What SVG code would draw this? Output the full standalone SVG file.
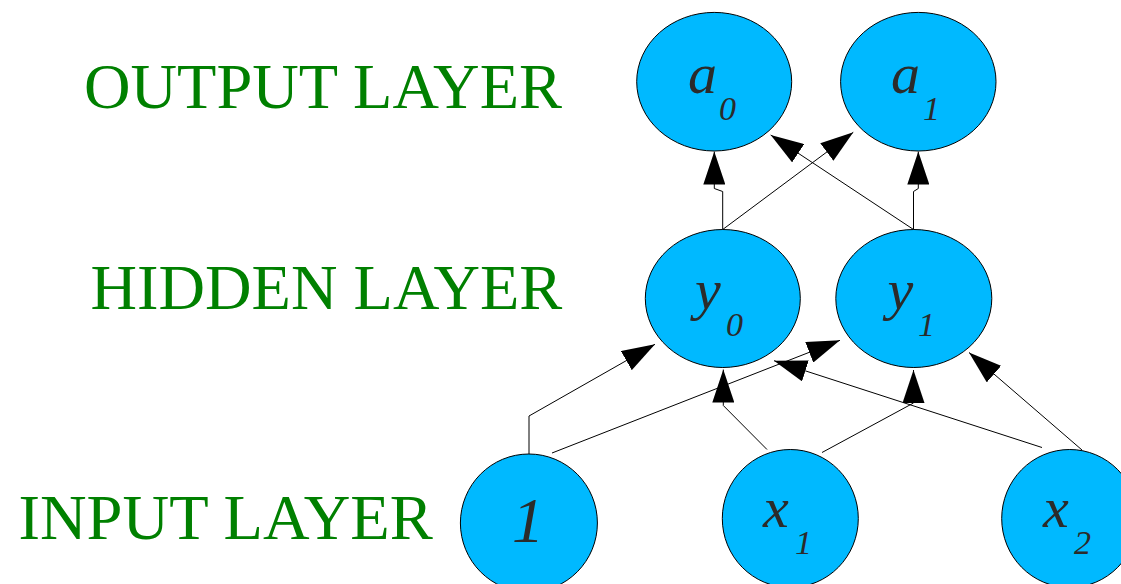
<svg xmlns="http://www.w3.org/2000/svg" width="1121" height="584" viewBox="0 0 1121 584">
<defs>
<marker id="ah" markerWidth="33" markerHeight="22" refX="33" refY="11" orient="auto" markerUnits="userSpaceOnUse" viewBox="0 0 33 22"><path d="M0,0 L33,11 L0,22 z" fill="#000"/></marker>
</defs>
<rect width="1121" height="584" fill="#fff"/>
<g id="layer-labels" font-family="Liberation Serif, serif" font-size="48" fill="#008000">
<text transform="translate(84,107.7) scale(1.3333)" x="0" y="0" textLength="358.5" lengthAdjust="spacingAndGlyphs">OUTPUT LAYER</text>
<text transform="translate(90.6,309.3) scale(1.3333)" x="0" y="0" textLength="353.8" lengthAdjust="spacingAndGlyphs">HIDDEN LAYER</text>
<text transform="translate(18.5,539) scale(1.3333)" x="0" y="0" textLength="310.7" lengthAdjust="spacingAndGlyphs">INPUT LAYER</text>
</g>
<g id="connectors" fill="none" stroke="#000" stroke-width="1" marker-end="url(#ah)">
<path d="M529,454 L529,416 L655,344.3"/>
<path d="M552,453 L840,340.3"/>
<path d="M767,449.5 L723.3,405.5 L723.3,369.5"/>
<path d="M822,452.5 L913.5,403 L913.5,370"/>
<path d="M1042,447.5 L774,360.7"/>
<path d="M1082,450 L969,352.5"/>
<path d="M722.7,229.5 L722.7,191.5 L714.3,188.5 L714.3,151.5"/>
<path d="M722.7,229.5 L853.3,132.3"/>
<path d="M913.5,229.5 L913.5,191.5 L918.3,188.5 L918.3,151.5"/>
<path d="M913.5,229.5 L770.7,135"/>
</g>
<g id="nodes" fill="#00b9ff" stroke="#000" stroke-width="1">
<g id="node-a0"><ellipse cx="714.2" cy="81.7" rx="77.5" ry="69.3"/></g>
<g id="node-a1"><ellipse cx="918.3" cy="81.7" rx="77.7" ry="69.3"/></g>
<g id="node-y0"><ellipse cx="722.8" cy="298.5" rx="77.5" ry="69"/></g>
<g id="node-y1"><ellipse cx="913.8" cy="298.5" rx="78" ry="69"/></g>
<g id="node-1"><ellipse cx="528.9" cy="523" rx="68.5" ry="69"/></g>
<g id="node-x1"><ellipse cx="790.3" cy="518.5" rx="68" ry="69"/></g>
<g id="node-x2"><ellipse cx="1069.7" cy="518.5" rx="68" ry="69"/></g>
</g>
<g id="node-labels" font-family="Liberation Serif, serif" font-style="italic" fill="#2b2b2b" font-size="48">
<text transform="translate(688,92.7) scale(1.2083)">a</text><text x="719" y="120" font-size="34">0</text>
<text transform="translate(891,92.7) scale(1.2083)">a</text><text x="923" y="120" font-size="34">1</text>
<text transform="translate(695,308.5) scale(1.2083)">y</text><text x="726" y="335.7" font-size="34">0</text>
<text transform="translate(887.5,308.5) scale(1.2083)">y</text><text x="918" y="335.7" font-size="34">1</text>
<text transform="translate(512,541.7) scale(1.3333)">1</text>
<text transform="translate(763,526.7) scale(1.2083)">x</text><text x="795" y="554" font-size="34">1</text>
<text transform="translate(1043,526.7) scale(1.2083)">x</text><text x="1074" y="554" font-size="34">2</text>
</g>
</svg>
